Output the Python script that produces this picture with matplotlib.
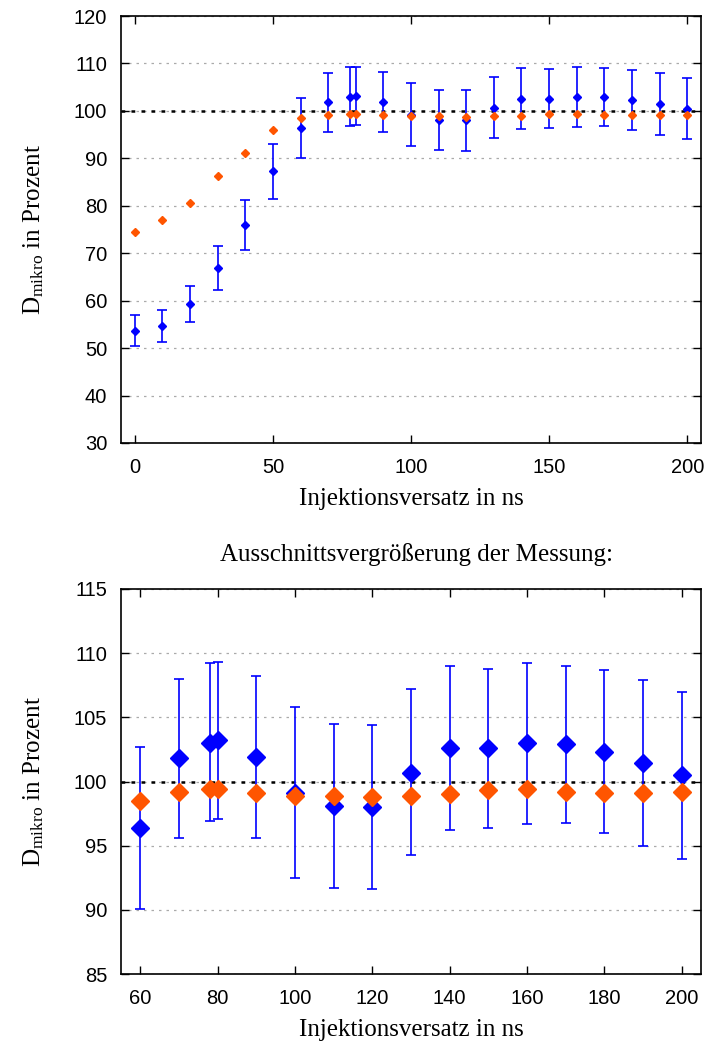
import matplotlib
matplotlib.use('Agg')
import matplotlib.pyplot as plt

plt.rcParams['font.family'] = 'Liberation Sans'
plt.rcParams['mathtext.fontset'] = 'custom'
plt.rcParams['mathtext.rm'] = 'Liberation Serif'
plt.rcParams['mathtext.it'] = 'Liberation Serif:italic'

# Injektionsversatz in ns
x = [0, 10, 20, 30, 40, 50, 60, 70, 78, 80, 90, 100, 110, 120, 130,
     140, 150, 160, 170, 180, 190, 200]
# Messung (blau) mit Fehlerbalken
blue = [53.7, 54.6, 59.3, 66.8, 76.0, 87.3, 96.4, 101.8, 103.0, 103.2, 101.9,
        99.1, 98.1, 98.0, 100.7, 102.6, 102.6, 103.0, 102.9, 102.3, 101.45, 100.5]
blue_hi = [57.0, 58.1, 63.1, 71.5, 81.3, 93.1, 102.7, 108.0, 109.2, 109.3, 108.2,
           105.8, 104.5, 104.4, 107.2, 109.0, 108.8, 109.2, 109.0, 108.7, 107.9, 107.0]
blue_lo = [50.4, 51.3, 55.4, 62.2, 70.7, 81.4, 90.1, 95.6, 96.9, 97.1, 95.6,
           92.5, 91.7, 91.6, 94.3, 96.2, 96.4, 96.7, 96.8, 96.0, 95.0, 94.0]
# Simulation (orange)
orange = [74.4, 76.9, 80.5, 86.3, 91.1, 96.0, 98.5, 99.2, 99.4, 99.4, 99.1,
          98.9, 98.9, 98.8, 98.9, 99.0, 99.35, 99.4, 99.2, 99.1, 99.1, 99.2]

err_lo = [b - l for b, l in zip(blue, blue_lo)]
err_hi = [h - b for b, h in zip(blue, blue_hi)]

fig = plt.figure(figsize=(7.1, 10.48), dpi=100)
W, H = 710, 1048
ax1 = fig.add_axes([121 / W, 1 - 443 / H, 580 / W, 427 / H])
ax2 = fig.add_axes([121 / W, 1 - 974 / H, 580 / W, 385 / H])

serif = {'family': 'Liberation Serif', 'size': 18}

def style(ax):
    ax.yaxis.grid(True, color='#aaaaaa', linestyle=(0, (2, 4)), linewidth=0.9)
    ax.set_axisbelow(True)
    ax.axhline(100, color='black', linestyle=(0, (1.5, 2.5)), linewidth=1.8, zorder=1.5)
    ax.tick_params(direction='in', top=True, right=True, labelsize=14.5, length=6, width=1)
    ax.tick_params(axis='x', pad=11)
    ax.tick_params(axis='y', pad=10)
    for s in ax.spines.values():
        s.set_linewidth(1.2)
    ax.set_xlabel('Injektionsversatz in ns', fontdict=serif, labelpad=8)
    ax.set_ylabel(r'D$_{\mathrm{mikro}}$ in Prozent', fontdict=serif, labelpad=20)

# oben: Gesamtmessung
ax1.errorbar(x, blue, yerr=[err_lo, err_hi], fmt='D', color='#0000ff', ms=4,
             ecolor='#0000ff', elinewidth=1.2, capsize=3.5, capthick=1.2, zorder=3)
ax1.plot(x, orange, 'D', color='#ff5500', ms=4, linestyle='none', zorder=4)
ax1.set_xlim(-5, 205)
ax1.set_ylim(30, 120)
ax1.set_xticks([0, 50, 100, 150, 200])
ax1.set_yticks(range(30, 121, 10))
style(ax1)

# unten: Ausschnitt ab 60 ns
x2 = x[6:]
ax2.errorbar(x2, blue[6:], yerr=[err_lo[6:], err_hi[6:]], fmt='D', color='#0000ff', ms=9,
             ecolor='#0000ff', elinewidth=1.2, capsize=3.5, capthick=1.2, zorder=3)
ax2.plot(x2, orange[6:], 'D', color='#ff5500', ms=9, linestyle='none', zorder=4)
ax2.set_xlim(55, 205)
ax2.set_ylim(85, 115)
ax2.set_xticks(range(60, 201, 20))
ax2.set_yticks(range(85, 116, 5))
style(ax2)

fig.text(416 / W, 1 - 555 / H, 'Ausschnittsvergrößerung der Messung:',
         ha='center', va='center', family='Liberation Serif', fontsize=18)

fig.savefig('out.png', dpi=100)
